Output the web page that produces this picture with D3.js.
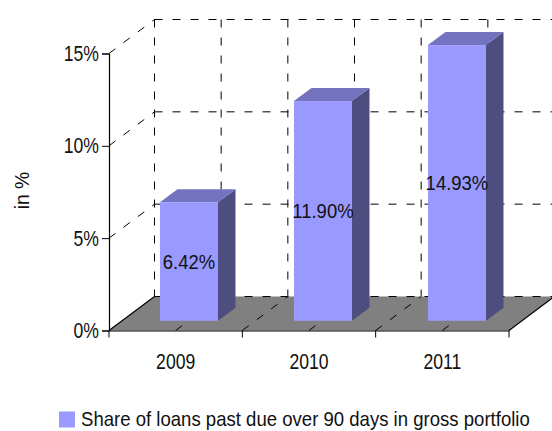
<!DOCTYPE html>
<meta charset="utf-8">
<script src="https://d3js.org/d3.v7.min.js"></script>
<style>
body { margin: 0; background: #fff; }
text { font-family: "Liberation Sans", Arial, sans-serif; font-size: 21px; fill: #111; }
.grid { stroke: #000; stroke-width: 1; stroke-dasharray: 8 10; fill: none; }
.edge { stroke: #000; stroke-width: 1.2; fill: none; }
</style>
<body>
<div id="chart"></div>
<script>

// Store the data
var years = ["2009", "2010", "2011"];
var shares = [6.42, 11.90, 14.93];
var valueLabels = ["6.42%", "11.90%", "14.93%"];
var yTicks = [0, 5, 10, 15];
var seriesName = "Share of loans past due over 90 days in gross portfolio";

var width = 552, height = 431;

var svg = d3.select("#chart").append("svg")
    .attr("width", width)
    .attr("height", height)
    .style("display", "block");

// the reference font is tall and narrow, squeeze the glyphs to a given width factor
function squeeze(selection, factor) {
  selection.each(function() {
    d3.select(this)
      .attr("textLength", this.getComputedTextLength() * factor)
      .attr("lengthAdjust", "spacingAndGlyphs");
  });
}

// set the ranges, front plane of the box
var x = d3.scaleBand().domain(years).range([109, 509]);
var y = d3.scaleLinear().domain([0, 15]).range([330.5, 53.5]);

// bars step a touch wider than the axis bands in the picture
var xBars = d3.scaleBand().domain(years).range([109, 511]);

// depth goes up and to the right, 0 = front, 1 = back wall
var depthX = d3.scaleLinear().domain([0, 1]).range([0, 45.5]);
var depthY = d3.scaleLinear().domain([0, 1]).range([0, -34]);

// gridlines sit on every half band
var gridX = d3.range(0, 7).map(function(i) { return 109 + i * x.bandwidth() / 2; });

var barWidth = 58;
var barFront = 0.285, barDepth = 0.385;

// Back wall grid
var grid = svg.append("g");
yTicks.slice(1).forEach(function(t) {
  grid.append("line").attr("class", "grid")
    .attr("x1", 109 + depthX(1)).attr("x2", width)
    .attr("y1", y(t) + depthY(1)).attr("y2", y(t) + depthY(1));
  // side wall
  grid.append("line").attr("class", "grid")
    .attr("x1", 109).attr("y1", y(t))
    .attr("x2", 109 + depthX(1)).attr("y2", y(t) + depthY(1));
});
gridX.forEach(function(gx) {
  grid.append("line").attr("class", "grid")
    .attr("x1", gx + depthX(1)).attr("x2", gx + depthX(1))
    .attr("y1", y(15) + depthY(1)).attr("y2", y(0) + depthY(1));
});

// Floor
var floorPts = [[109, y(0)], [509, y(0)], [509 + depthX(1), y(0) + depthY(1)], [109 + depthX(1), y(0) + depthY(1)]];
svg.append("polygon")
    .attr("points", floorPts.join(" "))
    .attr("fill", "#808080");

svg.append("line").attr("class", "grid")
    .attr("x1", 109 + depthX(1)).attr("x2", width)
    .attr("y1", y(0) + depthY(1)).attr("y2", y(0) + depthY(1));

gridX.slice(1, 6).forEach(function(gx) {
  svg.append("line").attr("class", "grid")
    .attr("x1", gx).attr("y1", y(0))
    .attr("x2", gx + depthX(1)).attr("y2", y(0) + depthY(1));
});

// Solid floor edges
svg.append("line").attr("class", "edge")
    .attr("x1", 109).attr("y1", y(0))
    .attr("x2", 109 + depthX(1)).attr("y2", y(0) + depthY(1));
svg.append("line").attr("class", "edge")
    .attr("x1", 509).attr("y1", y(0))
    .attr("x2", 509 + depthX(1)).attr("y2", y(0) + depthY(1));

// Axes
var yAxis = svg.append("g")
    .attr("transform", "translate(109,0)")
    .call(d3.axisLeft(y).tickValues(yTicks).tickSize(7).tickPadding(3)
      .tickFormat(function(d) { return d + "%"; }));

var xAxis = svg.append("g")
    .attr("transform", "translate(0," + y(0) + ")")
    .call(d3.axisBottom(x).tickSize(0).tickPadding(38));

xAxis.selectAll(".tick line").remove();
xAxis.selectAll(".tick text").attr("dy", 0);
xAxis.selectAll(".xt")
    .data([0, 1, 2, 3])
  .enter().append("line")
    .attr("class", "xt")
    .attr("stroke", "#000")
    .attr("x1", function(d) { return 109 + d * x.bandwidth(); })
    .attr("x2", function(d) { return 109 + d * x.bandwidth(); })
    .attr("y1", 0).attr("y2", 7);

svg.selectAll(".domain").attr("stroke", "#000").attr("stroke-width", 1.2);
svg.selectAll(".tick text")
    .style("font-size", "22px")
    .style("font-family", "'Liberation Sans', Arial, sans-serif")
    .call(squeeze, 0.8);

// Bars
var bars = svg.selectAll(".bar")
    .data(years)
  .enter().append("g")
    .attr("class", "bar");

function frontX(d) { return xBars(d) + xBars.bandwidth() / 2 - barWidth / 2 + depthX(barFront); }
function barBase() { return y(0) + depthY(barFront); }
function barTop(d, i) { return y(shares[i]) + depthY(barFront); }

var dx = depthX(barDepth), dy = depthY(barDepth);

bars.append("polygon") // side
    .attr("fill", "#4D4D80")
    .attr("points", function(d, i) {
      var r = frontX(d) + barWidth;
      return [[r, barBase()], [r + dx, barBase() + dy], [r + dx, barTop(d, i) + dy], [r, barTop(d, i)]].join(" ");
    });

bars.append("polygon") // top
    .attr("fill", "#7373BF")
    .attr("points", function(d, i) {
      var l = frontX(d), t = barTop(d, i);
      return [[l, t], [l + barWidth, t], [l + barWidth + dx, t + dy], [l + dx, t + dy]].join(" ");
    });

bars.append("rect") // front
    .attr("fill", "#9999FF")
    .attr("x", function(d) { return frontX(d); })
    .attr("y", function(d, i) { return barTop(d, i); })
    .attr("width", barWidth)
    .attr("height", function(d, i) { return barBase() - barTop(d, i); });

// Add data labels to bar
bars.append("text")
    .attr("text-anchor", "middle")
    .attr("x", function(d) { return frontX(d) + barWidth / 2; })
    .attr("y", function(d, i) { return (barTop(d, i) + barBase()) / 2; })
    .attr("dy", "0.35em")
    .text(function(d, i) { return valueLabels[i]; })
    .call(squeeze, 0.88);

// Y axis label
svg.append("text")
    .attr("transform", "translate(29,190.5) rotate(-90)")
    .attr("text-anchor", "middle")
    .text("in %")
    .call(squeeze, 0.92);

// Legend
svg.append("rect")
    .attr("x", 59).attr("y", 411.5)
    .attr("width", 16).attr("height", 16)
    .attr("fill", "#9999FF");
var legendText = svg.append("text")
    .text(seriesName);
legendText.attr("transform", "translate(81,426) scale(" + (449 / legendText.node().getComputedTextLength()) + ",1)");

</script>
</body>
</html>
